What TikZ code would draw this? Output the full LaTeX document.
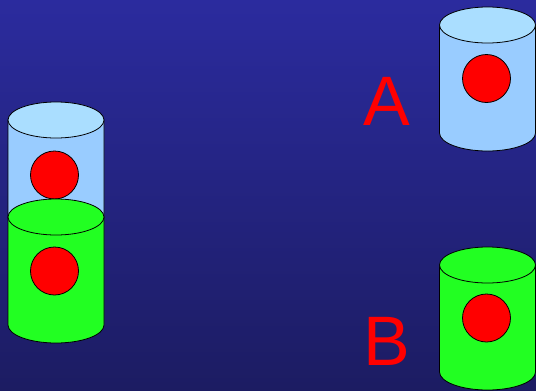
\documentclass[tikz,border=0pt]{standalone}
\usepackage{fontspec}
\setmainfont{Liberation Sans}
\definecolor{bgtop}{RGB}{43,43,158}
\definecolor{bgbot}{RGB}{28,28,98}
\definecolor{canblue}{RGB}{153,204,255}
\definecolor{canbluetop}{RGB}{170,222,255}
\definecolor{cangreen}{RGB}{34,255,34}
\definecolor{ballred}{RGB}{255,0,0}
\tikzset{
  outline/.style={draw=black, line width=0.8pt},
  label/.style={text=ballred, font=\fontsize{70}{70}\selectfont, inner sep=0pt, anchor=base west}
}
% #1 centre x, #2 top rim y, #3 bottom rim y, #4 side colour, #5 lid colour
\newcommand\drawcan[5]{%
  \path[outline, fill=#4] (#1-48,#2) -- (#1-48,#3)
    arc[start angle=180, end angle=360, x radius=48pt, y radius=18pt]
    -- (#1+48,#2) -- cycle;
  \path[outline, fill=#5] (#1,#2) ellipse[x radius=48pt, y radius=18pt];
}
\newcommand\drawball[2]{%
  \path[outline, fill=ballred] (#1,#2) circle[radius=24pt];
}
\begin{document}
\begin{tikzpicture}[x=1pt, y=-1pt]
  \shade[top color=bgtop, bottom color=bgbot] (0,0) rectangle (536,391);
  \useasboundingbox (0,0) rectangle (536,391);
  % stacked pair on the left
  \drawcan{56}{120}{217}{canblue}{canbluetop}
  \drawball{54.5}{175}
  \drawcan{56}{217}{325}{cangreen}{cangreen}
  \drawball{54.5}{271}
  % separate cans on the right
  \drawcan{487.5}{25}{133}{canblue}{canbluetop}
  \drawball{486.5}{78.5}
  \drawcan{487.5}{265}{372}{cangreen}{cangreen}
  \drawball{486.5}{318}
  % labels
  \node[label] (labA) at (363,125) {A};
  \node[label] (labB) at (363,365) {B};
\end{tikzpicture}
\end{document}
